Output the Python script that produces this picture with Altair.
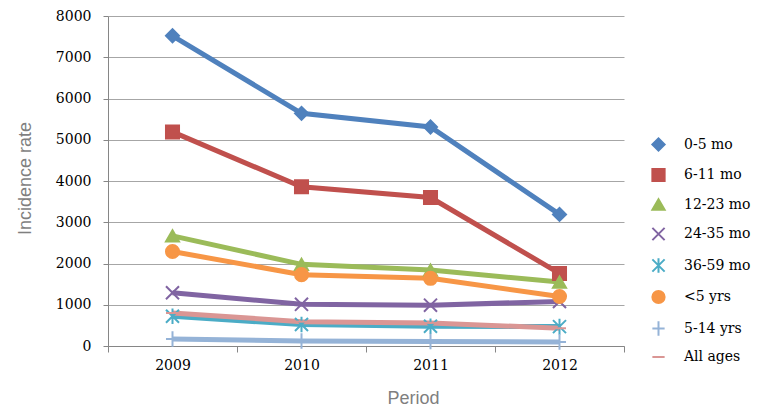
import altair as alt
import pandas as pd

years = ["2009", "2010", "2011", "2012"]
series = ["0-5 mo", "6-11 mo", "12-23 mo", "24-35 mo", "36-59 mo", "<5 yrs", "5-14 yrs", "All ages"]
values = {
    "0-5 mo":   [7520, 5640, 5310, 3190],
    "6-11 mo":  [5190, 3860, 3600, 1760],
    "12-23 mo": [2670, 1980, 1840, 1550],
    "24-35 mo": [1290, 1010, 990, 1080],
    "36-59 mo": [720, 520, 480, 470],
    "<5 yrs":   [2290, 1730, 1640, 1200],
    "5-14 yrs": [170, 120, 110, 100],
    "All ages": [800, 590, 560, 430],
}
colors = ["#4F81BD", "#C0504D", "#9BBB59", "#8064A2", "#4BACC6", "#F79646", "#95B3D7", "#DA9694"]
shapes = [
    "diamond",
    "square",
    "triangle-up",
    "M-1,-1L1,1M-1,1L1,-1",
    "M-1,-1L1,1M-1,1L1,-1M0,-1.2L0,1.2",
    "circle",
    "M-1,0L1,0M0,-1.2L0,1.2",
    "stroke",
]

rows = []
for s in series:
    for y, v in zip(years, values[s]):
        rows.append({"Period": y, "series": s, "value": v})
df = pd.DataFrame(rows)

x_enc = alt.X("Period:N", sort=years,
              scale=alt.Scale(paddingInner=0, paddingOuter=0),
              axis=alt.Axis(title="Period", labelAngle=0, tickBand="extent", tickSize=6,
                            labelPadding=6, titleX=305, titleY=52, titleBaseline="middle"))
y_enc = alt.Y("value:Q", scale=alt.Scale(domain=[0, 8000]),
              axis=alt.Axis(title="Incidence rate", values=list(range(0, 8001, 1000)), format="d",
                            tickSize=5, labelPadding=12, titleX=-83, titleY=162, titleAngle=-90,
                            titleBaseline="middle", titleAlign="center"))

sc_color = alt.Scale(domain=series, range=colors)
sc_shape = alt.Scale(domain=series, range=shapes)
legend = alt.Legend(title=None, orient="none", legendX=543, legendY=121,
                    labelFont="DejaVu Serif", labelFontSize=14, labelColor="#000",
                    symbolSize=150, symbolStrokeWidth=2, rowPadding=9.5, labelOffset=18)

lines = alt.Chart(df).mark_line(strokeWidth=5).encode(
    x=x_enc, y=y_enc,
    stroke=alt.Stroke("series:N", scale=sc_color, sort=series, legend=legend),
)
points = alt.Chart(df).mark_point(filled=True, size=170, strokeWidth=2, opacity=1).encode(
    x=x_enc, y=y_enc,
    fill=alt.Fill("series:N", scale=sc_color, sort=series, legend=legend),
    stroke=alt.Stroke("series:N", scale=sc_color, sort=series, legend=legend),
    shape=alt.Shape("series:N", scale=sc_shape, sort=series, legend=legend),
)

chart = alt.layer(lines, points).properties(
    width=516, height=330,
    autosize=alt.AutoSizeParams(type="none"),
    padding={"left": 100, "top": 8, "right": 130, "bottom": 64},
).configure_view(stroke=None).configure_axis(
    labelFont="DejaVu Serif", labelFontSize=14, labelColor="#000",
    titleFont="Liberation Sans", titleFontSize=18, titleColor="#7f7f7f", titleFontWeight="normal",
    domainColor="#868686", tickColor="#868686", gridColor="#a6a6a6",
).configure_axisX(grid=False).configure_axisY(grid=True)

chart.save("out.html", embed_options={"renderer": "svg", "actions": False})
